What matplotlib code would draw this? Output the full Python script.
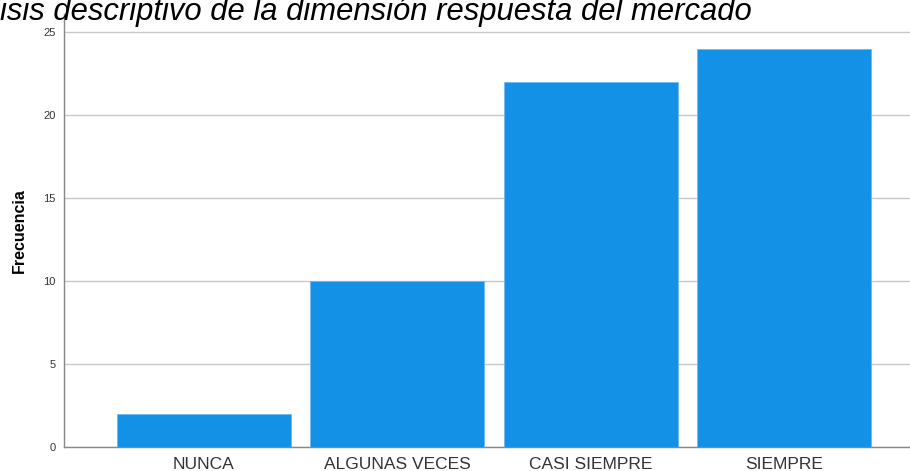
import matplotlib.pyplot as plt

categorias = ["NUNCA", "ALGUNAS VECES", "CASI SIEMPRE", "SIEMPRE"]
frecuencias = [2, 10, 22, 24]
yticks = [0, 5, 10, 15, 20, 25]
titulo = "Análisis descriptivo de la dimensión respuesta del mercado"

plt.rcParams["font.family"] = ["Liberation Sans", "DejaVu Sans"]

fig = plt.figure(figsize=(9.1, 4.71), dpi=100)
ax = fig.add_axes([64 / 910, 24 / 471, 1 - 64 / 910, (447 - 14) / 471])

x = list(range(len(categorias)))
ax.bar(x, frecuencias, width=0.9, color="#1391E7", edgecolor="#6FB8F0",
       linewidth=0.6, zorder=3)

ax.set_xlim(-0.724, 3.652)
ax.set_ylim(0, 26.1)
ax.set_yticks(yticks)
ax.set_xticks(x)
ax.set_xticklabels(categorias, fontsize=12.5, color="#333333")
ax.tick_params(axis="y", length=0, labelsize=8, colors="#333333", pad=6)
ax.tick_params(axis="x", length=0, pad=7)
ax.grid(axis="y", color="#C8C8C8", linewidth=1.0, zorder=0)

for side in ["top", "right"]:
    ax.spines[side].set_visible(False)
for side in ["left", "bottom"]:
    ax.spines[side].set_color("#888888")
    ax.spines[side].set_linewidth(1.0)

ax.set_ylabel("Frecuencia", fontsize=11.5, fontweight="bold", labelpad=12)

# el título queda recortado por la izquierda y por arriba, como en el original
fig.text(752 / 910, 1 - 20 / 471, titulo, ha="right", va="baseline",
         fontsize=22.3, fontstyle="italic", color="black")

fig.savefig("out.png", dpi=100)
